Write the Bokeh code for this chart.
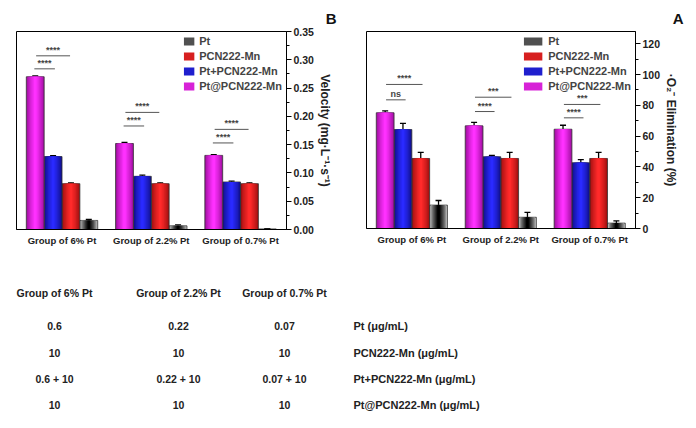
import numpy as np
from bokeh.plotting import figure
from bokeh.models import (Range1d, FixedTicker, Legend, LegendItem,
                          Whisker, ColumnDataSource, TeeHead)
from bokeh.layouts import column, row
from bokeh.embed import file_html
from bokeh.resources import INLINE
from bokeh.core.properties import value

# ---------------- data ----------------
groups = ["Group of 0.7% Pt", "Group of 2.2% Pt", "Group of 6% Pt"]
series = ["Pt", "PCN222-Mn", "Pt+PCN222-Mn", "Pt@PCN222-Mn"]

# Panel A: .O2- elimination (%)
a_pt = [3.5, 7.3, 15.2]
a_pt_err = [1.4, 3.2, 3.0]
a_pcn = [45.5, 45.5, 45.5]
a_pcn_err = [4.0, 4.0, 4.0]
a_mix = [42.7, 46.6, 64.3]
a_mix_err = [2.0, 0.9, 4.0]
a_at = [64.5, 66.7, 75.2]
a_at_err = [2.6, 2.2, 1.2]

# Panel B: velocity (mg L-1 s-1)
b_pt = [0.001, 0.0065, 0.016]
b_pt_err = [0.0005, 0.0015, 0.002]
b_pcn = [0.081, 0.081, 0.081]
b_pcn_err = [0.0015, 0.0015, 0.0015]
b_mix = [0.084, 0.094, 0.129]
b_mix_err = [0.0015, 0.002, 0.0015]
b_at = [0.131, 0.152, 0.270]
b_at_err = [0.0015, 0.002, 0.0015]

# significance marks (lower bracket, upper bracket) per group
a_sig_low = ["****", "****", "ns"]
a_sig_low_y = [71.9, 76.0, 83.6]
a_sig_up = ["***", "***", "****"]
a_sig_up_y = [80.6, 85.3, 93.6]
b_sig_low = ["****", "****", "****"]
b_sig_low_y = [0.153, 0.183, 0.284]
b_sig_up = ["****", "****", "****"]
b_sig_up_y = [0.177, 0.207, 0.307]

a_yticks = [0, 20, 40, 60, 80, 100, 120]
b_yticks = [0.0, 0.05, 0.10, 0.15, 0.20, 0.25, 0.30, 0.35]
b_ytick_labels = ["0.00", "0.05", "0.10", "0.15", "0.20", "0.25", "0.30", "0.35"]

# table
table_cols = groups
table_rows = ["Pt (μg/mL)", "PCN222-Mn (μg/mL)", "Pt+PCN222-Mn (μg/mL)", "Pt@PCN222-Mn (μg/mL)"]
table_pt = ["0.07", "0.22", "0.6"]
table_pcn = ["10", "10", "10"]
table_mix = ["0.07 + 10", "0.22 + 10", "0.6 + 10"]
table_at = ["10", "10", "10"]

# ---------------- style ----------------
FONT = "Liberation Sans"
edge_cols = {"Pt": "#bdbdbd", "PCN222-Mn": "#a01010", "Pt+PCN222-Mn": "#10108c", "Pt@PCN222-Mn": "#a010a0"}
mid_cols = {"Pt": "#000000", "PCN222-Mn": "#ff2a2a", "Pt+PCN222-Mn": "#2a2aff", "Pt@PCN222-Mn": "#ff30ff"}
# screen order left->right is Pt@, Pt+, PCN, Pt ; x axis reversed so data offsets:
offsets = {"Pt@PCN222-Mn": 0.3, "Pt+PCN222-Mn": 0.1, "PCN222-Mn": -0.1, "Pt": -0.3}
BW = 0.2


def hex2rgb(h):
    h = h.lstrip("#")
    return np.array([int(h[i:i + 2], 16) for i in (0, 2, 4)], dtype=float)


def mix(c1, c2, t):
    c = hex2rgb(c1) * (1 - t) + hex2rgb(c2) * t
    return "#%02x%02x%02x" % tuple(int(round(v)) for v in c)


def panel(vals, errs, ymax, yticks, minor, ylabel, letter, sig, legend_glyph_w,
          fw, fh, mb_left, mb_right, mb_top, mb_bottom, letter_off, tick_overrides=None):
    p = figure(frame_width=fw, frame_height=fh, x_range=Range1d(2.51, -0.515),
               y_range=Range1d(0, ymax), output_backend="svg",
               toolbar_location=None, y_axis_location="right",
               min_border_left=mb_left, min_border_right=mb_right,
               min_border_top=mb_top, min_border_bottom=mb_bottom)
    p.title.text = letter
    p.title.align = "right"
    p.title.offset = letter_off
    p.title.standoff = 9
    p.title.text_font = FONT
    p.title.text_font_style = "bold"
    p.title.text_font_size = "15px"
    p.title.text_color = "#111111"
    p.xgrid.visible = False
    p.ygrid.visible = False
    p.outline_line_color = "black"
    p.outline_line_width = 1
    p.background_fill_color = "white"
    p.border_fill_color = "white"

    xg = np.arange(len(groups))
    legend_r = {}
    for s in series:
        x = xg + offsets[s]
        nlay = 7
        rs = []
        for k in range(nlay):
            t = k / (nlay - 1)
            w = BW * (1 - 0.85 * t)
            col = mix(edge_cols[s], mid_cols[s], t ** 0.8)
            r = p.vbar(x=x, top=vals[s], width=w, bottom=0, fill_color=col,
                       line_color="#333333" if k == 0 else None,
                       line_width=0.8 if k == 0 else 0)
            rs.append(r)
        legend_r[s] = rs[3]
        src = ColumnDataSource(dict(x=x, up=np.array(vals[s]) + np.array(errs[s]),
                                    lo=np.array(vals[s]) - np.array(errs[s])))
        wk = Whisker(base="x", upper="up", lower="lo", source=src, dimension="height",
                     line_color="black", line_width=1.3,
                     upper_head=TeeHead(size=6, line_color="black", line_width=1.3),
                     lower_head=TeeHead(size=6, line_color="black", line_width=1.3))
        p.add_layout(wk)

    # significance brackets (screen offsets -> data offsets are negated)
    low_lab, low_y, up_lab, up_y, low_span, up_span = sig
    for labs, ys, span in ((low_lab, low_y, low_span), (up_lab, up_y, up_span)):
        x0 = xg - span[0]
        x1 = xg - span[1]
        p.segment(x0=x0, y0=ys, x1=x1, y1=ys, line_color="#555555", line_width=1)
        p.text(x=(x0 + x1) / 2, y=ys, text=labs, text_align="center",
               text_baseline="bottom", y_offset=-1, text_font=value(FONT),
               text_font_size="9px", text_font_style="bold", text_color="#444444")

    items = [LegendItem(label=s, renderers=[legend_r[s]]) for s in series]
    leg = Legend(items=items, location="top_right", label_text_font=FONT,
                 label_text_font_style="bold", label_text_font_size="11px",
                 glyph_width=legend_glyph_w, glyph_height=10, spacing=3,
                 padding=2, margin=4, label_standoff=4, label_height=10,
                 border_line_color=None, background_fill_alpha=0)
    p.add_layout(leg)

    ya = p.yaxis[0]
    ya.ticker = FixedTicker(ticks=yticks, minor_ticks=minor)
    if tick_overrides:
        ya.major_label_overrides = tick_overrides
    ya.axis_line_color = "black"
    ya.major_tick_in = 0
    ya.major_tick_out = 5
    ya.minor_tick_in = 0
    ya.minor_tick_out = 3
    ya.major_label_standoff = 2
    ya.major_label_text_font = FONT
    ya.major_label_text_font_style = "bold"
    ya.major_label_text_font_size = "10.5px"
    ya.major_label_text_color = "#222222"
    ya.axis_label = ylabel
    ya.axis_label_text_font = FONT
    ya.axis_label_text_font_style = "bold"
    ya.axis_label_text_font_size = "12px"
    ya.axis_label_text_color = "#222222"
    ya.axis_label_standoff = 1

    xa = p.xaxis[0]
    xa.ticker = FixedTicker(ticks=list(xg))
    xa.major_label_overrides = {int(i): g for i, g in zip(xg, groups)}
    xa.major_tick_line_color = None
    xa.minor_tick_line_color = None
    xa.major_tick_out = 0
    xa.major_tick_in = 0
    xa.minor_tick_out = 0
    xa.axis_line_color = "black"
    xa.major_label_standoff = 5
    xa.major_label_text_font = FONT
    xa.major_label_text_font_style = "bold"
    xa.major_label_text_font_size = "9.5px"
    xa.major_label_text_color = "#222222"
    return p


pB = panel({"Pt": b_pt, "PCN222-Mn": b_pcn, "Pt+PCN222-Mn": b_mix, "Pt@PCN222-Mn": b_at},
           {"Pt": b_pt_err, "PCN222-Mn": b_pcn_err, "Pt+PCN222-Mn": b_mix_err, "Pt@PCN222-Mn": b_at_err},
           0.35, b_yticks, [0.025 + 0.05 * i for i in range(7)],
           "Velocity (mg·L⁻¹·s⁻¹)", "B",
           (b_sig_low, b_sig_low_y, b_sig_up, b_sig_up_y, (-0.31, -0.08), (-0.29, 0.09)),
           13, 270, 198, 16, 64, 30, 30, -50,
           tick_overrides={t: l for t, l in zip(b_yticks, b_ytick_labels)})

pA = panel({"Pt": a_pt, "PCN222-Mn": a_pcn, "Pt+PCN222-Mn": a_mix, "Pt@PCN222-Mn": a_at},
           {"Pt": a_pt_err, "PCN222-Mn": a_pcn_err, "Pt+PCN222-Mn": a_mix_err, "Pt@PCN222-Mn": a_at_err},
           128, a_yticks, [10, 30, 50, 70, 90, 110],
           "·O₂⁻ Elimination (%)", "A",
           (a_sig_low, a_sig_low_y, a_sig_up, a_sig_up_y, (-0.29, -0.07), (-0.29, 0.12)),
           23, 269, 197, 16, 53, 31, 30, -48)

# ---------------- table ----------------
col_x = [284, 178, 54]      # layout positions of columns (px)
label_x = 353
header_y = 34
row_y = [67, 94, 120, 146]

pt = figure(width=688, height=162, x_range=Range1d(0, 688), y_range=Range1d(162, 0),
            output_backend="svg", toolbar_location=None, min_border=0)
pt.axis.visible = False
pt.grid.visible = False
pt.outline_line_color = None

pt.text(x=col_x, y=[header_y] * 3, text=table_cols, text_align="center",
        text_baseline="middle", text_font=value(FONT), text_font_style="bold",
        text_font_size="10.5px", text_color="#222222")
pt.text(x=[label_x] * 4, y=row_y, text=table_rows, text_align="left",
        text_baseline="middle", text_font=value(FONT), text_font_style="bold",
        text_font_size="11px", text_color="#222222")
for vals, yy in zip((table_pt, table_pcn, table_mix, table_at), row_y):
    pt.text(x=col_x, y=[yy] * 3, text=vals, text_align="center",
            text_baseline="middle", text_font=value(FONT), text_font_style="bold",
            text_font_size="10.5px", text_color="#222222")

layout = column(row(pB, pA, spacing=0), pt, spacing=0)
open("out.html", "w").write(file_html(layout, INLINE))
